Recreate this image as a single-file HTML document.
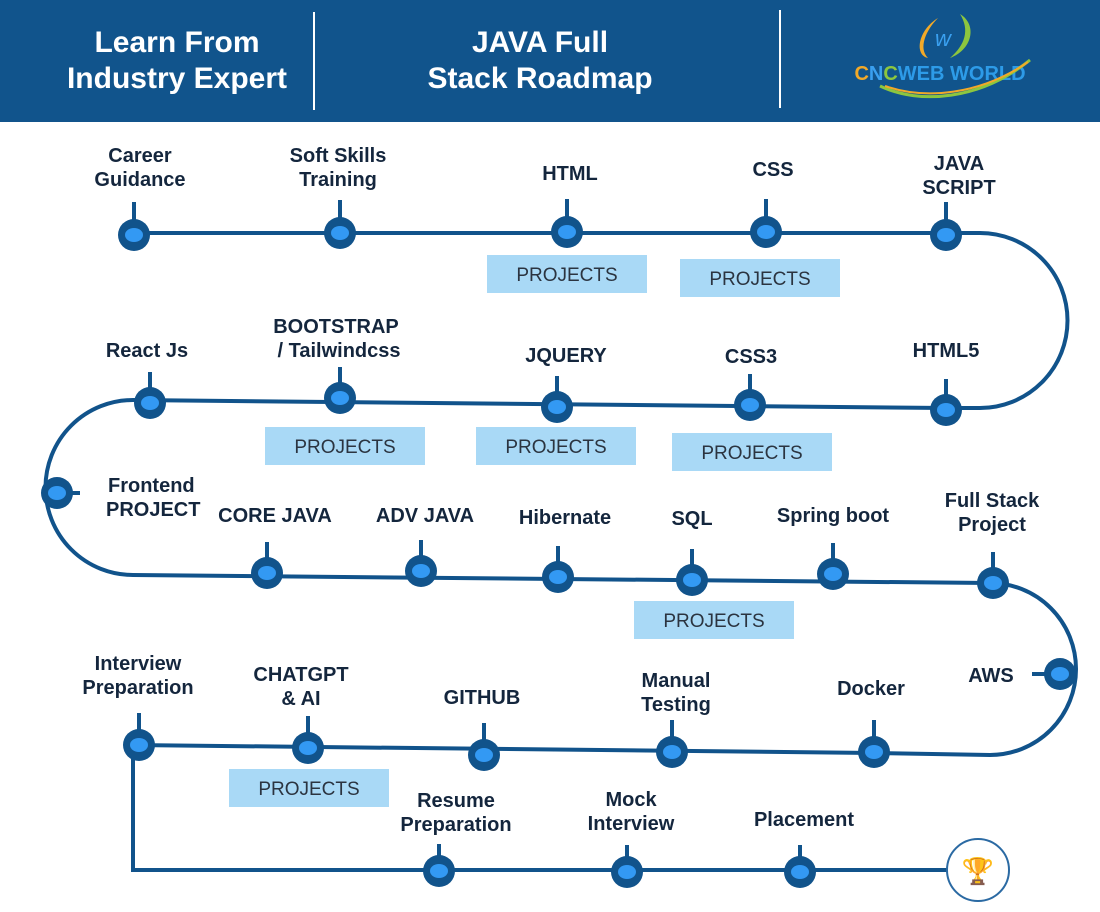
<!DOCTYPE html>
<html><head><meta charset="utf-8"><style>
html,body{margin:0;padding:0;background:#fff;width:1100px;height:912px;overflow:hidden}
svg text{font-family:"Liberation Sans",Arial,sans-serif}
.l{font-size:20px;font-weight:bold;fill:#14263d;text-anchor:middle}
.p{font-size:19px;fill:#2b3440;text-anchor:middle}
.h{font-size:30px;font-weight:bold;fill:#fff;text-anchor:middle}
</style></head><body>
<svg width="1100" height="912" viewBox="0 0 1100 912" xmlns="http://www.w3.org/2000/svg">
<rect x="0" y="0" width="1100" height="122" fill="#11548c"/>
<line x1="314" y1="12" x2="314" y2="110" stroke="#fff" stroke-width="2"/>
<line x1="780" y1="10" x2="780" y2="108" stroke="#fff" stroke-width="2"/>
<text class="h" x="177" y="52">Learn From</text>
<text class="h" x="177" y="88">Industry Expert</text>
<text class="h" x="540" y="52">JAVA Full</text>
<text class="h" x="540" y="88">Stack Roadmap</text>
<!-- logo -->
<path d="M938 18 C918 30 914 55 928 58 C918 48 926 30 938 18Z" fill="#f2a928"/>
<path d="M960 14 C978 25 972 50 950 58 C965 45 970 30 960 14Z" fill="#8cc63f"/>
<text x="943" y="46" font-size="22" font-style="italic" fill="#3aa0f0" text-anchor="middle">w</text>
<text x="940" y="80" font-size="20" font-weight="bold" text-anchor="middle" fill="#2d9be8"><tspan fill="#f2a928">C</tspan><tspan fill="#3aa0f0">N</tspan><tspan fill="#8cc63f">C</tspan>WEB WORLD</text>
<path d="M880 86 C920 105 980 100 1030 60" fill="none" stroke="#8cc63f" stroke-width="3"/>
<path d="M885 86 C925 100 980 95 1028 62" fill="none" stroke="#f2a928" stroke-width="2"/>
<!-- path -->
<g fill="none" stroke="#11538b" stroke-width="4">
<path d="M134 233 L980 233 A87 87 0 0 1 980 408 L946 408 L133 400 A87 87 0 0 0 133 575 L990 583 A86 86 0 0 1 990 755 L874 753 L133 745 L133 870 L948 870"/>
</g>
<circle cx="978" cy="870" r="31" fill="#fff" stroke="#2b6aa3" stroke-width="2"/>
<text x="978" y="880" font-size="26" text-anchor="middle">🏆</text>
<g stroke="#11538b" stroke-width="4">
<line x1="134" y1="235" x2="134" y2="202"/><line x1="340" y1="233" x2="340" y2="200"/><line x1="567" y1="232" x2="567" y2="199"/><line x1="766" y1="232" x2="766" y2="199"/><line x1="946" y1="235" x2="946" y2="202"/>
<line x1="150" y1="403" x2="150" y2="372"/><line x1="340" y1="398" x2="340" y2="367"/><line x1="557" y1="407" x2="557" y2="376"/><line x1="750" y1="405" x2="750" y2="374"/><line x1="946" y1="410" x2="946" y2="379"/>
<line x1="57" y1="493" x2="80" y2="493"/>
<line x1="267" y1="573" x2="267" y2="542"/><line x1="421" y1="571" x2="421" y2="540"/><line x1="558" y1="577" x2="558" y2="546"/><line x1="692" y1="580" x2="692" y2="549"/><line x1="833" y1="574" x2="833" y2="543"/><line x1="993" y1="583" x2="993" y2="552"/>
<line x1="1060" y1="674" x2="1032" y2="674"/>
<line x1="139" y1="745" x2="139" y2="713"/><line x1="308" y1="748" x2="308" y2="716"/><line x1="484" y1="755" x2="484" y2="723"/><line x1="672" y1="752" x2="672" y2="720"/><line x1="874" y1="752" x2="874" y2="720"/>
<line x1="439" y1="871" x2="439" y2="844"/><line x1="627" y1="872" x2="627" y2="845"/><line x1="800" y1="872" x2="800" y2="845"/>
</g>
<g fill="#11538b">
<circle cx="134" cy="235" r="16"/><circle cx="340" cy="233" r="16"/><circle cx="567" cy="232" r="16"/><circle cx="766" cy="232" r="16"/><circle cx="946" cy="235" r="16"/>
<circle cx="150" cy="403" r="16"/><circle cx="340" cy="398" r="16"/><circle cx="557" cy="407" r="16"/><circle cx="750" cy="405" r="16"/><circle cx="946" cy="410" r="16"/>
<circle cx="57" cy="493" r="16"/>
<circle cx="267" cy="573" r="16"/><circle cx="421" cy="571" r="16"/><circle cx="558" cy="577" r="16"/><circle cx="692" cy="580" r="16"/><circle cx="833" cy="574" r="16"/><circle cx="993" cy="583" r="16"/>
<circle cx="1060" cy="674" r="16"/>
<circle cx="139" cy="745" r="16"/><circle cx="308" cy="748" r="16"/><circle cx="484" cy="755" r="16"/><circle cx="672" cy="752" r="16"/><circle cx="874" cy="752" r="16"/>
<circle cx="439" cy="871" r="16"/><circle cx="627" cy="872" r="16"/><circle cx="800" cy="872" r="16"/>
</g>
<g fill="#3399f3">
<ellipse cx="134" cy="235" rx="9" ry="7"/><ellipse cx="340" cy="233" rx="9" ry="7"/><ellipse cx="567" cy="232" rx="9" ry="7"/><ellipse cx="766" cy="232" rx="9" ry="7"/><ellipse cx="946" cy="235" rx="9" ry="7"/>
<ellipse cx="150" cy="403" rx="9" ry="7"/><ellipse cx="340" cy="398" rx="9" ry="7"/><ellipse cx="557" cy="407" rx="9" ry="7"/><ellipse cx="750" cy="405" rx="9" ry="7"/><ellipse cx="946" cy="410" rx="9" ry="7"/>
<ellipse cx="57" cy="493" rx="9" ry="7"/>
<ellipse cx="267" cy="573" rx="9" ry="7"/><ellipse cx="421" cy="571" rx="9" ry="7"/><ellipse cx="558" cy="577" rx="9" ry="7"/><ellipse cx="692" cy="580" rx="9" ry="7"/><ellipse cx="833" cy="574" rx="9" ry="7"/><ellipse cx="993" cy="583" rx="9" ry="7"/>
<ellipse cx="1060" cy="674" rx="9" ry="7"/>
<ellipse cx="139" cy="745" rx="9" ry="7"/><ellipse cx="308" cy="748" rx="9" ry="7"/><ellipse cx="484" cy="755" rx="9" ry="7"/><ellipse cx="672" cy="752" rx="9" ry="7"/><ellipse cx="874" cy="752" rx="9" ry="7"/>
<ellipse cx="439" cy="871" rx="9" ry="7"/><ellipse cx="627" cy="872" rx="9" ry="7"/><ellipse cx="800" cy="872" rx="9" ry="7"/>
</g>
<g fill="#a9d9f6">
<rect x="487" y="255" width="160" height="38"/><rect x="680" y="259" width="160" height="38"/>
<rect x="265" y="427" width="160" height="38"/><rect x="476" y="427" width="160" height="38"/><rect x="672" y="433" width="160" height="38"/>
<rect x="634" y="601" width="160" height="38"/><rect x="229" y="769" width="160" height="38"/>
</g>
<text class="p" x="567" y="281">PROJECTS</text><text class="p" x="760" y="285">PROJECTS</text>
<text class="p" x="345" y="453">PROJECTS</text><text class="p" x="556" y="453">PROJECTS</text><text class="p" x="752" y="459">PROJECTS</text>
<text class="p" x="714" y="627">PROJECTS</text><text class="p" x="309" y="795">PROJECTS</text>
<text class="l" x="140" y="162">Career</text><text class="l" x="140" y="186">Guidance</text>
<text class="l" x="338" y="162">Soft Skills</text><text class="l" x="338" y="186">Training</text>
<text class="l" x="570" y="180">HTML</text>
<text class="l" x="773" y="176">CSS</text>
<text class="l" x="959" y="170">JAVA</text><text class="l" x="959" y="194">SCRIPT</text>
<text class="l" x="147" y="357">React Js</text>
<text class="l" x="336" y="333">BOOTSTRAP</text><text class="l" x="339" y="357">/ Tailwindcss</text>
<text class="l" x="566" y="362">JQUERY</text>
<text class="l" x="751" y="363">CSS3</text>
<text class="l" x="946" y="357">HTML5</text>
<text class="l" x="108" y="492" style="text-anchor:start">Frontend</text><text class="l" x="106" y="516" style="text-anchor:start">PROJECT</text>
<text class="l" x="275" y="522">CORE JAVA</text>
<text class="l" x="425" y="522">ADV JAVA</text>
<text class="l" x="565" y="524">Hibernate</text>
<text class="l" x="692" y="525">SQL</text>
<text class="l" x="833" y="522">Spring boot</text>
<text class="l" x="992" y="507">Full Stack</text><text class="l" x="992" y="531">Project</text>
<text class="l" x="991" y="682">AWS</text>
<text class="l" x="138" y="670">Interview</text><text class="l" x="138" y="694">Preparation</text>
<text class="l" x="301" y="681">CHATGPT</text><text class="l" x="301" y="705">&amp; AI</text>
<text class="l" x="482" y="704">GITHUB</text>
<text class="l" x="676" y="687">Manual</text><text class="l" x="676" y="711">Testing</text>
<text class="l" x="871" y="695">Docker</text>
<text class="l" x="456" y="807">Resume</text><text class="l" x="456" y="831">Preparation</text>
<text class="l" x="631" y="806">Mock</text><text class="l" x="631" y="830">Interview</text>
<text class="l" x="804" y="826">Placement</text>
</svg>
</body></html>
